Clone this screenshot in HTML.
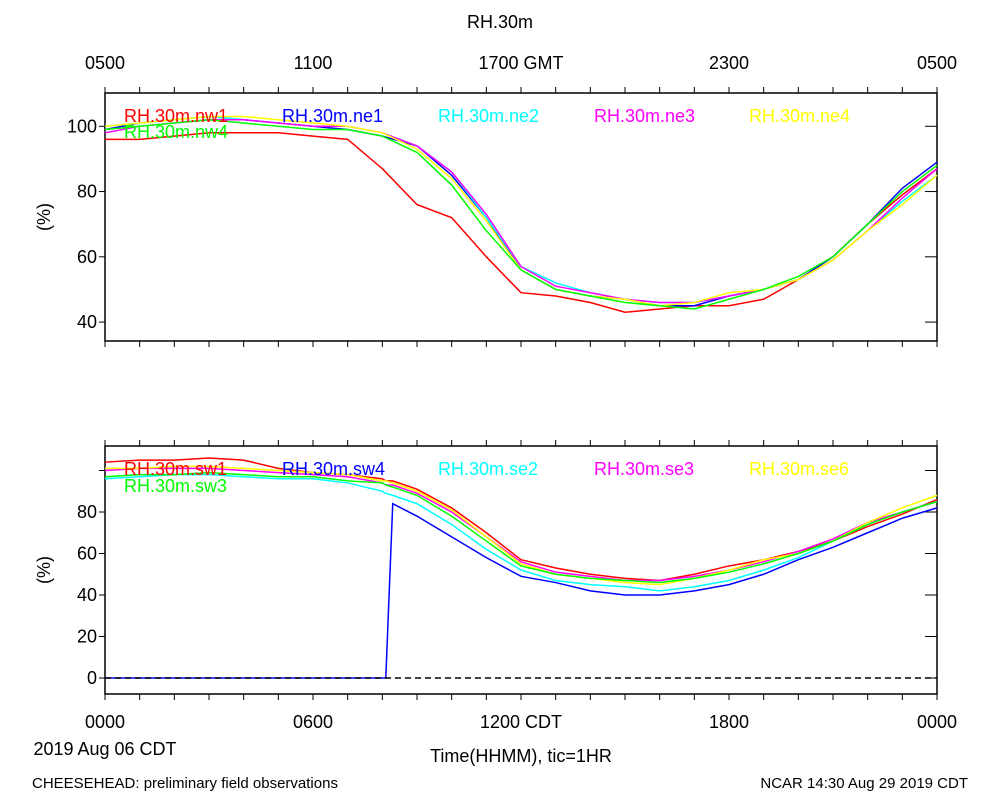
<!DOCTYPE html>
<html><head><meta charset="utf-8"><style>
body{margin:0;background:#fff}
svg text{font-family:"Liberation Sans",sans-serif;}
</style></head><body>
<svg id="chart" width="1000" height="800" xmlns="http://www.w3.org/2000/svg"></svg>
<script>
// ---- data ----
const topHours=[0,1,2,3,4,5,6,7,8,9,10,11,12,13,14,15,16,17,18,19,20,21,22,23,24];
const topNames=["RH.30m.nw1","RH.30m.ne1","RH.30m.ne2","RH.30m.ne3","RH.30m.ne4","RH.30m.nw4"];
const topColors=["#ff0000","#0000ff","#00ffff","#ff00ff","#ffff00","#00ff00"];
const nw1=[96,96,97,98,98,98,97,96,87,76,72,60,49,48,46,43,44,45,45,47,53,60,70,79,87];
const ne1=[99,101,102,103,102,101,100,99,97,94,85,72,56,50,48,47,45,45,48,50,53,60,70,81,89];
const ne2=[100,101,102,103,102,101,100,100,98,94,86,72,57,52,49,47,46,46,48,50,53,59,68,77,85];
const ne3=[98,100,101,102,102,101,100,100,98,94,86,73,57,51,49,47,46,46,48,50,53,59,68,78,87];
const ne4=[100,101,102,103,103,102,101,100,98,93,84,71,56,50,48,47,45,46,49,50,53,59,68,76,85];
const nw4=[99,100,101,102,101,100,99,99,97,92,82,68,56,50,48,46,45,44,47,50,54,60,70,80,88];
const topSeries=[nw1,ne1,ne2,ne3,ne4,nw4];
const botHours=[0,1,2,3,4,5,6,7,8,8.1,8.3,9,10,11,12,13,14,15,16,17,18,19,20,21,22,23,24];
const botNames=["RH.30m.sw1","RH.30m.sw4","RH.30m.se2","RH.30m.se3","RH.30m.se6","RH.30m.sw3"];
const botColors=["#ff0000","#0000ff","#00ffff","#ff00ff","#ffff00","#00ff00"];
const sw1=[104,105,105,106,105,101,99,98,96,95,95,91,82,70,57,53,50,48,47,50,54,57,61,66,73,79,86];
const sw4=[0,0,0,0,0,0,0,0,0,0,84,78,68,58,49,46,42,40,40,42,45,50,57,63,70,77,82];
const se2=[96,97,98,98,97,96,96,94,90,89,88,84,74,62,52,47,45,44,42,44,47,52,58,66,74,80,85];
const se3=[100,101,101,101,100,99,98,97,94,93,93,89,80,68,56,51,49,47,47,49,52,56,61,67,75,80,85];
const se6=[101,101,102,102,101,100,99,98,95,95,94,90,81,68,55,50,48,46,45,48,52,57,60,66,75,82,88];
const sw3=[97,98,98,99,98,97,97,95,94,93,92,88,78,66,54,50,48,47,46,48,51,55,60,66,74,80,85];
const botSeries=[sw1,sw4,se2,se3,se6,sw3];
const yTicksTop=[40,60,80,100];
const yTicksBot=[0,20,40,60,80];
const xLabelsBot=["0000","0600","1200 CDT","1800","0000"];
const xLabelsTop=["0500","1100","1700 GMT","2300","0500"];

const svg=document.getElementById('chart');
const NS="http://www.w3.org/2000/svg";
function mk(t,a,p){const e=document.createElementNS(NS,t);for(const k in a)e.setAttribute(k,a[k]);(p||svg).appendChild(e);return e;}
const X0=105,X1=937;
const xs=h=>X0+(X1-X0)*h/24;
function panel(y0,y1,vmin,vmax,name){
  const g=mk('g',{});
  
  
  const ys=v=>y1-(v-vmin)/(vmax-vmin)*(y1-y0);
  const r=mk('rect',{x:X0,y:y0,width:X1-X0,height:y1-y0,fill:'none',stroke:'#000','stroke-width':1.5},g);
  
  
  for(let h=0;h<=24;h++){
    const x=xs(h);
    mk('line',{x1:x,x2:x,y1:y0-6,y2:y0,stroke:'#000'},g);
    mk('line',{x1:x,x2:x,y1:y1,y2:y1+6,stroke:'#000'},g);
  }
  return {g,ys};
}
function series(p,hours,vals,color,name){
  const pl=mk('polyline',{points:hours.map((h,i)=>xs(h)+','+p.ys(vals[i])).join(' '),fill:'none',stroke:color,'stroke-width':1.5},p.g);
  
  
}
function txt(x,y,s,o,name,parent){
  const t=mk('text',Object.assign({x:x,y:y,'font-size':18,fill:'#000'},o||{}),parent);
  t.textContent=s;
  
  
  return t;
}
// top panel
const P1=panel(93,341,34.2,110.2,'top-panel');
yTicksTop.forEach(v=>{const y=P1.ys(v);
  mk('line',{x1:X0-6,x2:X0,y1:y,y2:y,stroke:'#000'},P1.g);
  mk('line',{x1:X1-12,x2:X1,y1:y,y2:y,stroke:'#000'},P1.g);
  txt(97,y+6,String(v),{'text-anchor':'end'},'y-tick-label',P1.g);});
topSeries.forEach((s,i)=>series(P1,topHours,s,topColors[i],'line-'+topNames[i].replace(/\./g,'-').toLowerCase()));
const legTop=[[124,122],[282,122],[438,122],[594,122],[749,122],[124,138]];
topNames.forEach((n,i)=>txt(legTop[i][0],legTop[i][1],n,{fill:topColors[i]},'legend-entry',P1.g));
txt(50,217,'(%)',{'text-anchor':'middle',transform:'rotate(-90 50 217)'},'y-axis-title',P1.g);
// bottom panel
const P2=panel(446,694,-7.7,111.8,'bottom-panel');
yTicksBot.concat([100]).forEach(v=>{const y=P2.ys(v);
  mk('line',{x1:X0-6,x2:X0,y1:y,y2:y,stroke:'#000'},P2.g);
  mk('line',{x1:X1-12,x2:X1,y1:y,y2:y,stroke:'#000'},P2.g);});
yTicksBot.forEach(v=>txt(97,P2.ys(v)+6,String(v),{'text-anchor':'end'},'y-tick-label',P2.g));
botSeries.forEach((s,i)=>series(P2,botHours,s,botColors[i],'line-'+botNames[i].replace(/\./g,'-').toLowerCase()));
const zl=mk('line',{x1:X0,x2:X1,y1:P2.ys(0),y2:P2.ys(0),stroke:'#000','stroke-width':1.5,'stroke-dasharray':'6,4'},P2.g);


const legBot=[[124,475],[282,475],[438,475],[594,475],[749,475],[124,492]];
botNames.forEach((n,i)=>txt(legBot[i][0],legBot[i][1],n,{fill:botColors[i]},'legend-entry',P2.g));
txt(50,570,'(%)',{'text-anchor':'middle',transform:'rotate(-90 50 570)'},'y-axis-title',P2.g);
// axis labels
txt(500,28,'RH.30m',{'text-anchor':'middle'},'chart-title');
xLabelsTop.forEach((s,i)=>txt(xs(i*6),69,s,{'text-anchor':'middle'},'top-x-tick-label'));
xLabelsBot.forEach((s,i)=>txt(xs(i*6),728,s,{'text-anchor':'middle'},'x-tick-label'));
txt(105,755,'2019 Aug 06 CDT',{'text-anchor':'middle'},'date-label');
txt(521,762,'Time(HHMM), tic=1HR',{'text-anchor':'middle'},'x-axis-title');
txt(32,788,'CHEESEHEAD: preliminary field observations',{'font-size':15},'footer-left');
txt(968,788,'NCAR 14:30 Aug 29 2019 CDT',{'font-size':15,'text-anchor':'end'},'footer-right');
</script>
</body></html>
